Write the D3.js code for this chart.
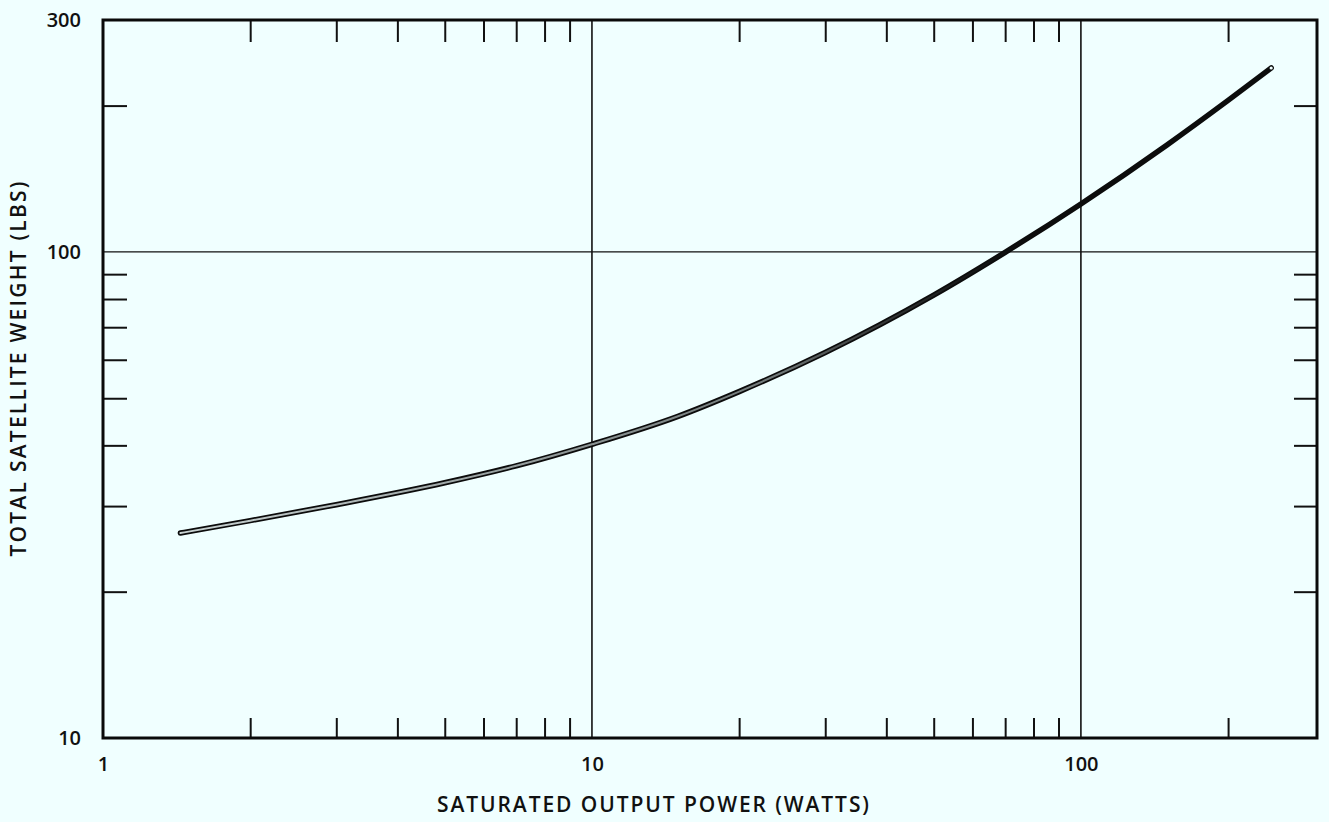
<!DOCTYPE html>
<html>
<head>
<meta charset="utf-8">
<script src="https://cdn.jsdelivr.net/npm/d3@7"></script>
<style>
  html, body { margin: 0; padding: 0; background: #f0ffff; }
  svg { display: block; }
  text { font-family: "Open Sans", "DejaVu Sans", sans-serif; font-weight: 600; fill: #111; }
</style>
</head>
<body>
<svg id="chart" width="1329" height="822"></svg>
<script>
// Saturated output power (W) vs. total satellite weight (lb)
const powerW   = [1.44, 2,    3,    5,    7,    10,   15,   20,   30,   50,   70,   100,   150,   200,   245];
const weightLb = [26.4, 28.0, 30.2, 33.5, 36.3, 40.2, 45.9, 51.6, 62.1, 81.5, 99.8, 125.5, 166,   205,   239];

// Axis labels and tick values
const powerLabels  = [1, 10, 100];
const weightLabels = [10, 100, 300];
const powerMinor   = [2, 3, 4, 5, 6, 7, 8, 9, 20, 30, 40, 50, 60, 70, 80, 90, 200];
const weightMinor  = [20, 30, 40, 50, 60, 70, 80, 90, 200];
const powerGrid    = [10, 100];
const weightGrid   = [100];
const xTitle = "SATURATED OUTPUT POWER (WATTS)";
const yTitle = "TOTAL SATELLITE WEIGHT (LBS)";

const plotLeft = 103, plotRight = 1317, plotTop = 20, plotBottom = 738;

const svg = d3.select("#chart");

const x = d3.scaleLog().domain([1, 304]).range([plotLeft, plotRight]);
const y = d3.scaleLog().domain([10, 300]).range([plotBottom, plotTop]);

// grid lines at decades
svg.append("g")
  .selectAll("line").data(powerGrid).join("line")
  .attr("x1", d => x(d)).attr("x2", d => x(d))
  .attr("y1", plotTop).attr("y2", plotBottom)
  .attr("stroke", "#111").attr("stroke-width", 1.6);
svg.append("g")
  .selectAll("line").data(weightGrid).join("line")
  .attr("x1", plotLeft).attr("x2", plotRight)
  .attr("y1", d => y(d)).attr("y2", d => y(d))
  .attr("stroke", "#111").attr("stroke-width", 1.4);

// minor ticks on all four sides, pointing inward
function tickStyle(g) {
  g.select(".domain").remove();
  g.selectAll(".tick text").remove();
  g.selectAll(".tick line").attr("stroke", "#111").attr("stroke-width", 2);
}
svg.append("g").attr("transform", `translate(0,${plotTop})`)
  .call(d3.axisTop(x).tickValues(powerMinor).tickSize(-22)).call(tickStyle);
svg.append("g").attr("transform", `translate(0,${plotBottom})`)
  .call(d3.axisBottom(x).tickValues(powerMinor).tickSize(-20)).call(tickStyle);
svg.append("g").attr("transform", `translate(${plotLeft},0)`)
  .call(d3.axisLeft(y).tickValues(weightMinor).tickSize(-24)).call(tickStyle);
svg.append("g").attr("transform", `translate(${plotRight},0)`)
  .call(d3.axisRight(y).tickValues(weightMinor).tickSize(-23)).call(tickStyle);

// frame
svg.append("rect")
  .attr("x", plotLeft).attr("y", plotTop)
  .attr("width", plotRight - plotLeft).attr("height", plotBottom - plotTop)
  .attr("fill", "none").attr("stroke", "#0a0a0a").attr("stroke-width", 3);

// tick labels
const xLab = svg.append("g").attr("transform", `translate(0,${plotBottom})`)
  .call(d3.axisBottom(x).tickValues(powerLabels).tickSize(0).tickPadding(19).tickFormat(d3.format("d")));
xLab.select(".domain").remove();
xLab.selectAll("text").attr("font-size", 20).attr("font-family", null).attr("fill", "#111");

const yLab = svg.append("g").attr("transform", `translate(${plotLeft},0)`)
  .call(d3.axisLeft(y).tickValues(weightLabels).tickSize(0).tickPadding(22).tickFormat(d3.format("d")));
yLab.select(".domain").remove();
yLab.selectAll("text").attr("font-size", 20).attr("font-family", null).attr("fill", "#111");

// axis titles
svg.append("text")
  .attr("x", 653).attr("y", 812)
  .attr("text-anchor", "middle")
  .attr("font-size", 21)
  .attr("textLength", 432).attr("lengthAdjust", "spacing")
  .text(xTitle);
svg.append("text")
  .attr("transform", "translate(26,369) rotate(-90)")
  .attr("text-anchor", "middle")
  .attr("font-size", 21)
  .attr("textLength", 375).attr("lengthAdjust", "spacing")
  .text(yTitle);

// weight curve: dark outlined stroke with a pale core that fills in toward the high end
const defs = svg.append("defs");
const grad = defs.append("linearGradient")
  .attr("id", "coreFade").attr("gradientUnits", "userSpaceOnUse")
  .attr("x1", x(powerW[0])).attr("x2", x(powerW[powerW.length - 1]))
  .attr("y1", 0).attr("y2", 0);
grad.append("stop").attr("offset", "0%").attr("stop-color", "#c9d3d3").attr("stop-opacity", 1);
grad.append("stop").attr("offset", "55%").attr("stop-color", "#7b8484").attr("stop-opacity", 0.9);
grad.append("stop").attr("offset", "80%").attr("stop-color", "#111").attr("stop-opacity", 0.0);

const pts = powerW.map((p, i) => [p, weightLb[i]]);
const line = d3.line()
  .x(d => x(d[0])).y(d => y(d[1]))
  .curve(d3.curveMonotoneX);

svg.append("path").datum(pts)
  .attr("d", line)
  .attr("fill", "none").attr("stroke", "#0c0c0c")
  .attr("stroke-width", 5.5).attr("stroke-linecap", "round");
svg.append("path").datum(pts)
  .attr("d", line)
  .attr("fill", "none").attr("stroke", "url(#coreFade)")
  .attr("stroke-width", 2).attr("stroke-linecap", "round");

// open end marker
const last = pts[pts.length - 1];
svg.append("circle")
  .attr("cx", x(last[0])).attr("cy", y(last[1]))
  .attr("r", 1.6).attr("fill", "#f0ffff");
</script>
</body>
</html>
